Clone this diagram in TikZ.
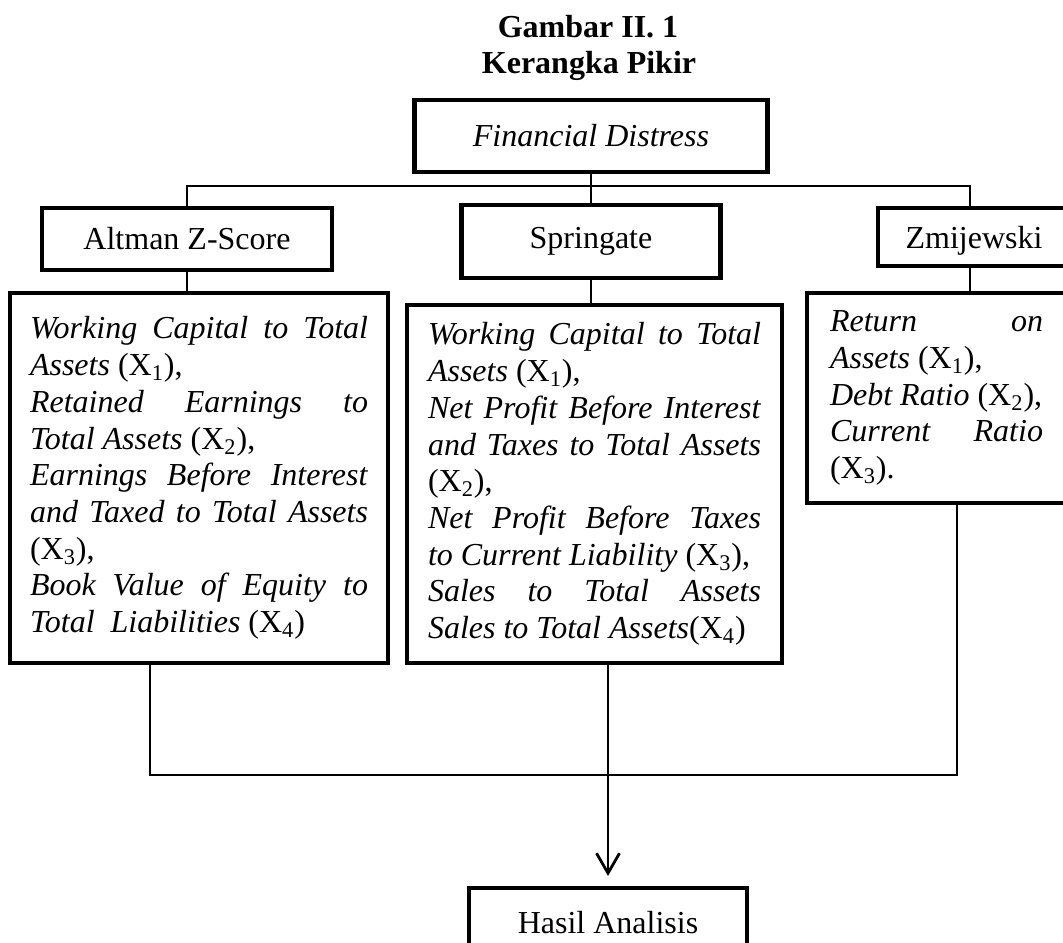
\documentclass[tikz,border=0pt]{standalone}
\usepackage{fontspec}
\setmainfont{Liberation Serif}
\usetikzlibrary{arrows.meta}

\begin{document}
\begin{tikzpicture}[x=0.5pt,y=-0.5pt,
	font=\fontsize{16pt}{18.35pt}\selectfont,
	kotak/.style={draw,line width=2.4pt,inner sep=0pt,outer sep=0pt},
	isi/.style={draw,line width=2.4pt,anchor=north west,align=justify,inner ysep=0pt,outer sep=0pt},
	garis/.style={line width=1.4pt}]
	\useasboundingbox (0,0) rectangle (1063,942);
	\clip (0,0) rectangle (1063,942);
	\node [anchor=base] (judul1) at (588,37) {\bfseries Gambar II. 1};
	\node [anchor=base] (judul2) at (589,73) {\bfseries Kerangka Pikir};
	\node [kotak,minimum width=176.5pt,minimum height=36pt] (fd) at (591,136) {\textit{Financial Distress}};
	\node [kotak,minimum width=145pt,minimum height=31pt] (altS) at (187,239) {Altman Z-Score};
	\node [kotak,minimum width=129.5pt,minimum height=36.5pt] (sprS) at (591,241.5) {Springate};
	\node [kotak,minimum width=96pt,minimum height=29pt,text depth=0pt] (zmS) at (974,237) {Zmijewski};
	\node [isi,text width=169pt,inner xsep=10pt,minimum height=185pt] (altB) at (10,293) {%
		\textit{Working Capital to Total}\linebreak
		\textit{Assets} (X\textsubscript{1}),\\
		\textit{Retained Earnings to}\linebreak
		\textit{Total Assets} (X\textsubscript{2}),\\
		\textit{Earnings Before Interest}\linebreak
		\textit{and Taxed to Total Assets}\linebreak
		(X\textsubscript{3}),\\
		\textit{Book Value of Equity to}\linebreak
		\textit{Total\ \ Liabilities} (X\textsubscript{4})};
	\node [isi,text width=166.5pt,inner xsep=10.5pt,minimum height=179pt] (sprB) at (407,305) {%
		\textit{Working Capital to Total}\linebreak
		\textit{Assets} (X\textsubscript{1}),\\
		\textit{Net Profit Before Interest}\linebreak
		\textit{and Taxes to Total Assets}\linebreak
		(X\textsubscript{2}),\\
		\textit{Net Profit Before Taxes}\linebreak
		\textit{to Current Liability} (X\textsubscript{3}),\\
		\textit{Sales to Total Assets}\linebreak
		\textit{Sales to Total Assets}(X\textsubscript{4})};
	\node [isi,text width=106.5pt,inner xsep=11.5pt,minimum height=105pt] (zmB) at (807,293) {%
		\textit{Return on}\linebreak
		\textit{Assets} (X\textsubscript{1}),\\
		\textit{Debt Ratio} (X\textsubscript{2}),\\
		\textit{Current Ratio}\linebreak
		(X\textsubscript{3}).};
	\node [kotak,minimum width=139pt,minimum height=35pt] (hasil) at (608,923) {Hasil Analisis};
	\coordinate (busA) at (0,186);
	\coordinate (busB) at (0,775);
	\coordinate (kA) at (150,0);
	\coordinate (kZ) at (957,0);
	\coordinate (kT) at (970,0);
	\draw [garis] (fd.south) -- (sprS.north);
	\draw [garis] (altS.north) -- (altS.north |- busA) -| (zmS.north -| kT);
	\draw [garis] (altS.south) -- (altS.south |- altB.north);
	\draw [garis] (sprS.south) -- (sprS.south |- sprB.north);
	\draw [garis] (zmS.south -| kT) -- (zmB.north -| kT);
	\draw [garis] (altB.south -| kA) -- (kA |- busB) -- (kZ |- busB) -- (zmB.south -| kZ);
	\draw [garis,-{Straight Barb[length=10pt,width=11.5pt]},shorten >=6pt] (sprB.south -| hasil.north) -- (hasil.north);
\end{tikzpicture}
\end{document}
